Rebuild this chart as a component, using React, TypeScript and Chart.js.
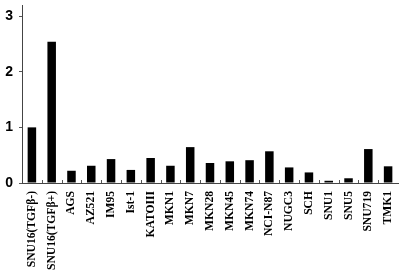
import React, { useEffect, useRef } from "react";
import { Chart, registerables } from "chart.js";

Chart.register(...registerables);

const categories = [
  "SNU16(TGFβ-)", "SNU16(TGFβ+)", "AGS", "AZ521", "IM95", "Ist-1", "KATOIII",
  "MKN1", "MKN7", "MKN28", "MKN45", "MKN74", "NCI-N87", "NUGC3", "SCH",
  "SNU1", "SNU5", "SNU719", "TMK1",
];
const values = [
  1.0, 2.54, 0.22, 0.31, 0.43, 0.235, 0.45, 0.31, 0.645, 0.36, 0.39, 0.41,
  0.57, 0.28, 0.19, 0.04, 0.085, 0.61, 0.3,
];
const yTicks = [0, 1, 2, 3];

const innerTicks = {
  id: "innerTicks",
  afterDraw(chart: any) {
    const x = chart.scales.x;
    const ctx = chart.ctx;
    const n = categories.length;
    const step = (x.right - x.left) / n;
    const base = chart.chartArea.bottom;
    ctx.save();
    ctx.strokeStyle = "#555";
    ctx.lineWidth = 1;
    ctx.beginPath();
    for (let i = 1; i < n; i++) {
      const px = Math.round(x.getPixelForValue(i) - step / 2) + 0.5;
      ctx.moveTo(px, base);
      ctx.lineTo(px, base - 3);
    }
    ctx.stroke();
    ctx.restore();
  },
};

export default function App() {
  const ref = useRef<HTMLCanvasElement | null>(null);
  useEffect(() => {
    if (!ref.current) return;
    const chart = new Chart(ref.current, {
      type: "bar",
      data: {
        labels: categories,
        datasets: [
          {
            data: values,
            backgroundColor: "#000",
            borderWidth: 0,
            barPercentage: 0.43,
            categoryPercentage: 1,
          },
        ],
      },
      plugins: [innerTicks],
      options: {
        animation: false,
        responsive: true,
        maintainAspectRatio: false,
        layout: { padding: { left: 0, right: 2, top: 5, bottom: 0 } },
        plugins: { legend: { display: false }, tooltip: { enabled: false } },
        scales: {
          x: {
            grid: { display: true, drawOnChartArea: false, drawTicks: true, tickLength: 3, color: "rgba(0,0,0,0)" },
            border: { color: "#444", width: 1 },
            ticks: {
              minRotation: 90,
              maxRotation: 90,
              autoSkip: false,
              padding: 5,
              color: "#000",
              font: { family: "Liberation Serif", weight: "bold", size: 11.6 },
            },
            afterFit: (s: any) => {
              s.height = 88;
              s.paddingLeft = 0;
              s.paddingRight = 0;
            },
          },
          y: {
            min: 0,
            max: 3.2,
            afterBuildTicks: (s: any) => {
              s.ticks = yTicks.map((v) => ({ value: v }));
            },
            grid: { display: true, drawOnChartArea: false, tickLength: 3, color: "#555" },
            border: { color: "#444", width: 1 },
            ticks: {
              padding: 6,
              color: "#000",
              font: { family: "Liberation Sans", weight: "bold", size: 14 },
            },
            afterFit: (s: any) => {
              s.width = 22;
              s.paddingTop = 0;
              s.paddingBottom = 0;
            },
          },
        },
      },
    });
    return () => chart.destroy();
  }, []);
  return (
    <div style={{ position: "absolute", left: 0, top: 0, width: 400, height: 271, background: "#fff" }}>
      <canvas ref={ref} />
    </div>
  );
}
